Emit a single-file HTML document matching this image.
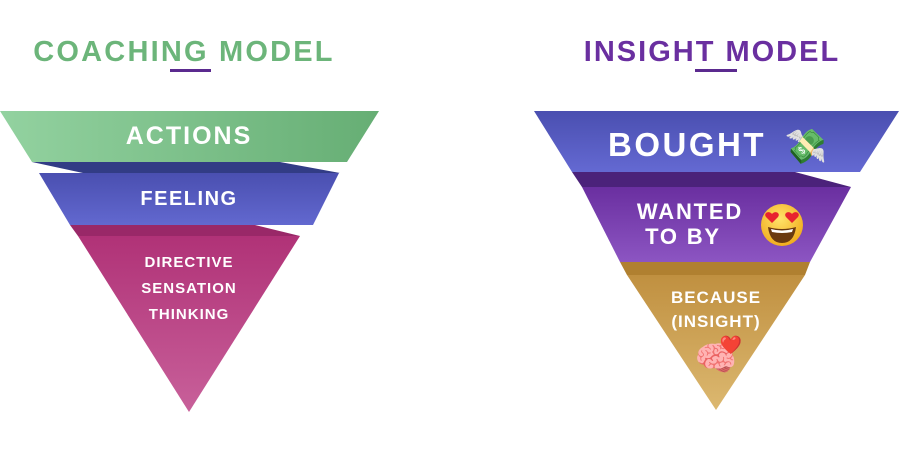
<!DOCTYPE html>
<html><head><meta charset="utf-8"><style>
html,body{margin:0;padding:0;background:#fff;width:900px;height:450px;overflow:hidden}
svg{display:block}
text{font-family:"Liberation Sans","DejaVu Sans",sans-serif;font-weight:bold}
</style></head><body>
<svg width="900" height="450" viewBox="0 0 900 450">
<defs>
<linearGradient id="g1" x1="0" x2="1" y1="0" y2="0"><stop offset="0" stop-color="#93d2a0"/><stop offset="1" stop-color="#66ae74"/></linearGradient>
<linearGradient id="b1" x1="0" x2="0" y1="0" y2="1"><stop offset="0" stop-color="#4a4fb0"/><stop offset="1" stop-color="#6268cf"/></linearGradient>
<linearGradient id="m1" x1="0" x2="0" y1="0" y2="1"><stop offset="0" stop-color="#b03277"/><stop offset="1" stop-color="#c8609a"/></linearGradient>
<linearGradient id="b2" x1="0" x2="0" y1="0" y2="1"><stop offset="0" stop-color="#4a4fb0"/><stop offset="1" stop-color="#6469d2"/></linearGradient>
<linearGradient id="p2" x1="0" x2="0" y1="0" y2="1"><stop offset="0" stop-color="#6a2fa0"/><stop offset="1" stop-color="#8c55c2"/></linearGradient>
<linearGradient id="o2" x1="0" x2="0" y1="0" y2="1"><stop offset="0" stop-color="#c09040"/><stop offset="1" stop-color="#dcb870"/></linearGradient>
<radialGradient id="face" cx="0.45" cy="0.35" r="0.7"><stop offset="0" stop-color="#ffe36a"/><stop offset="1" stop-color="#f0a818"/></radialGradient>
</defs>
<!-- left -->
<text x="184" y="61" text-anchor="middle" font-size="29" fill="#6cb57a" letter-spacing="2.2">COACHING MODEL</text>
<rect x="170" y="69" width="41" height="3" fill="#5b2a8f"/>
<polygon points="32,162 280,162 340,173 83,173" fill="#323c85"/>
<polygon points="0,111 379,111 347,162 32,162" fill="url(#g1)"/>
<polygon points="70,225 255,225 300,236 78,236" fill="#992868"/>
<polygon points="39,173 339,173 313,225 70,225" fill="url(#b1)"/>
<polygon points="78,236 300,236 189,412" fill="url(#m1)"/>
<text x="189" y="144" text-anchor="middle" font-size="25" fill="#fff" letter-spacing="2">ACTIONS</text>
<text x="189" y="205" text-anchor="middle" font-size="20" fill="#fff" letter-spacing="1.5">FEELING</text>
<text x="189" y="267" text-anchor="middle" font-size="15" fill="#fff" letter-spacing="1">DIRECTIVE</text>
<text x="189" y="293" text-anchor="middle" font-size="15" fill="#fff" letter-spacing="1">SENSATION</text>
<text x="189" y="319" text-anchor="middle" font-size="15" fill="#fff" letter-spacing="1">THINKING</text>
<!-- right -->
<text x="712" y="61" text-anchor="middle" font-size="29" fill="#6a2fa0" letter-spacing="2">INSIGHT MODEL</text>
<rect x="695" y="69" width="42" height="3" fill="#5b2a8f"/>
<polygon points="572,172 795,172 851,187 582,187" fill="#4b227a"/>
<polygon points="534,111 899,111 860,172 572,172" fill="url(#b2)"/>
<polygon points="620,262 810,262 805,275 627,275" fill="#b08030"/>
<polygon points="582,187 851,187 810,262 620,262" fill="url(#p2)"/>
<polygon points="627,275 805,275 716,410" fill="url(#o2)"/>
<text x="687" y="156" text-anchor="middle" font-size="33" fill="#fff" letter-spacing="2.5">BOUGHT</text>
<text x="806" y="158" text-anchor="middle" font-size="34">💸</text>
<text x="690" y="219" text-anchor="middle" font-size="22" fill="#fff" letter-spacing="1.8">WANTED</text>
<text x="683" y="244" text-anchor="middle" font-size="22" fill="#fff" letter-spacing="1.8">TO BY</text>
<g transform="translate(782,225)">
<circle r="21" fill="url(#face)"/>
<path d="M-14,2 Q0,6 14,2 Q12,18 0,18 Q-12,18 -14,2 Z" fill="#6b3a10"/>
<path d="M-11,4 Q0,7 11,4 L10,7 Q0,9 -10,7 Z" fill="#fff"/>
<path d="M-10,-11 c-3,-4 -9,-1 -6,3 l6,6 l6,-6 c3,-4 -3,-7 -6,-3z" fill="#e8232f"/>
<path d="M10,-11 c-3,-4 -9,-1 -6,3 l6,6 l6,-6 c3,-4 -3,-7 -6,-3z" fill="#e8232f"/>
</g>
<text x="716" y="303" text-anchor="middle" font-size="17" fill="#fff" letter-spacing="1">BECAUSE</text>
<text x="716" y="327" text-anchor="middle" font-size="17" fill="#fff" letter-spacing="1">(INSIGHT)</text>
<text x="716" y="370" text-anchor="middle" font-size="34">🧠</text>
<text x="731" y="351" text-anchor="middle" font-size="18">❤️</text>
</svg>
</body></html>
